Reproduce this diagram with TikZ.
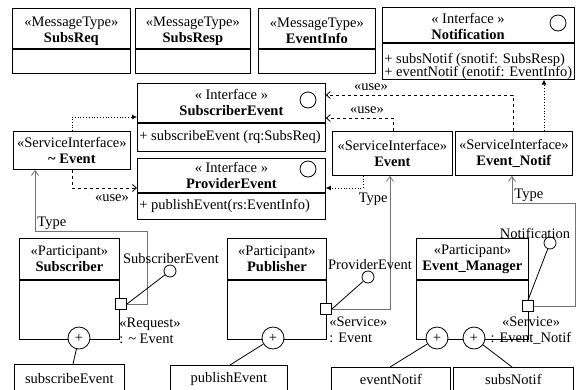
\documentclass[tikz,border=0pt]{standalone}
\usepackage{fontspec}
\setmainfont{Liberation Serif}
\usetikzlibrary{positioning,arrows.meta}

\begin{document}
\begin{tikzpicture}[
    x=1pt, y=-1pt,
    font=\fontsize{14.5}{16}\selectfont,
    line width=0.8pt,
    hdr/.style={draw, anchor=north west, align=center, inner sep=1pt},
    cbody/.style={draw, inner sep=1pt},
    lbl/.style={inner sep=0pt, align=center},
    iface/.style={draw, circle, minimum size=16pt, inner sep=0pt},
    port/.style={draw, fill=white, rectangle, minimum size=11pt, inner sep=0pt},
    lolli/.style={draw, fill=white, circle, minimum size=12pt, inner sep=0pt},
    own/.style={draw, fill=white, circle, minimum size=22pt, inner sep=0pt},
    usedep/.style={dashed, -{Straight Barb[length=4pt,width=7pt]}},
    realize/.style={dotted, -{Latex[length=5pt,width=5pt]}},
    typeof/.style={draw=black!55, -{Straight Barb[length=5pt,width=7pt]}}
]
    \useasboundingbox (0,0) rectangle (577,389);

    % message types
    \node[hdr, minimum width=118, minimum height=40] (reqH) at (12,8) {};
    \node[cbody, minimum width=118, minimum height=24, below=0pt of reqH] (reqB) {};
    \node[lbl] (reqT) at ([yshift=-23]reqH.north) {«MessageType»\\\textbf{SubsReq}};
    \node[hdr, minimum width=115, minimum height=40] (rspH) at (135,8) {};
    \node[cbody, minimum width=115, minimum height=24, below=0pt of rspH] (rspB) {};
    \node[lbl] (rspT) at ([yshift=-23]rspH.north) {«MessageType»\\\textbf{SubsResp}};
    \node[hdr, minimum width=117, minimum height=40] (infH) at (258,8) {};
    \node[cbody, minimum width=117, minimum height=24, below=0pt of infH] (infB) {};
    \node[lbl] (infT) at ([yshift=-23]infH.north) {«MessageType»\\\textbf{EventInfo}};

    % interfaces
    \node[hdr, minimum width=192, minimum height=35] (notH) at (382,7) {};
    \node[lbl] (notT) at (468,26) {« Interface »\\\textbf{Notification}};
    \node[iface] (notI) at (558,23) {};
    \node[cbody, minimum width=192, minimum height=36, below=0pt of notH] (notB) {};
    \node[lbl, anchor=west] (notOp1) at ([xshift=2]notB.west |- 0,60) {+ subsNotif (snotif: SubsResp)};
    \node[lbl, anchor=west] (notOp2) at ([xshift=2]notB.west |- 0,73) {+ eventNotif (enotif: EventInfo)};

    \node[hdr, minimum width=188, minimum height=39] (subH) at (137,83) {« Interface »\\\textbf{SubscriberEvent}};
    \node[iface] (subI) at (308,100) {};
    \node[cbody, minimum width=188, minimum height=28, below=0pt of subH] (subB) {};
    \node[lbl, anchor=west] (subOp) at ([xshift=2]subB.west) {+ subscribeEvent (rq:SubsReq)};

    \node[hdr, minimum width=188, minimum height=34] (prvH) at (137,158) {« Interface »\\\textbf{ProviderEvent}};
    \node[iface] (prvI) at (308,169) {};
    \node[cbody, minimum width=188, minimum height=26, below=0pt of prvH] (prvB) {};
    \node[lbl, anchor=west] (prvOp) at ([xshift=2]prvB.west) {+ publishEvent(rs:EventInfo)};

    % service interfaces
    \node[hdr, minimum width=117, minimum height=38] (tevS) at (13,131) {«ServiceInterface»\\\textbf{\textasciitilde{} Event}};
    \node[hdr, minimum width=120, minimum height=44] (evS) at (332,131) {«ServiceInterface»\\\textbf{Event}};
    \node[hdr, minimum width=117, minimum height=44] (enS) at (455,131) {«ServiceInterface»\\\textbf{Event\_Notif}};

    % participants
    \node[hdr, minimum width=100, minimum height=41] (sbrH) at (19,238) {«Participant»\\\textbf{Subscriber}};
    \node[cbody, minimum width=100, minimum height=59, below=0pt of sbrH] (sbrB) {};
    \node[hdr, minimum width=99, minimum height=41] (pubH) at (227,238) {«Participant»\\\textbf{Publisher}};
    \node[cbody, minimum width=99, minimum height=59, below=0pt of pubH] (pubB) {};
    \node[hdr, minimum width=112, minimum height=41] (emH) at (416,238) {«Participant»\\\textbf{Event\_Manager}};
    \node[cbody, minimum width=112, minimum height=59, below=0pt of emH] (emB) {};

    % operations
    \node[cbody, anchor=north west, minimum width=110, minimum height=28] (sbrOp) at (14,364) {subscribeEvent};
    \node[cbody, anchor=north west, minimum width=117, minimum height=27] (pubOp) at (170,365) {publishEvent};
    \node[cbody, anchor=north west, minimum width=119, minimum height=25] (emOp1) at (331,367) {eventNotif};
    \node[cbody, anchor=north west, minimum width=120, minimum height=25] (emOp2) at (453,367) {subsNotif};

    % dependencies
    \coordinate (dA) at (72,117);
    \coordinate (dB) at (72,188);
    \coordinate (dC) at (393,118);
    \coordinate (dD) at (363,188);
    \coordinate (dE) at (513,95);
    \coordinate (dF) at (544,0);
    \draw[realize] (tevS.north -| dA) |- (subH.west |- dA);
    \draw[usedep] (tevS.south -| dB) |- (prvH.west |- dB);
    \draw[usedep] (evS.north -| dC) |- (subH.east |- dC);
    \draw[realize] (evS.south -| dD) |- (prvH.east |- dD);
    \draw[usedep] (enS.north -| dE) |- (subH.east |- dE);
    \draw[realize] (enS.north -| dF) -- (notB.south -| dF);
    \node[lbl] (useB) at (112,198) {«use»};
    \node[lbl] (useC) at (367,110) {«use»};
    \node[lbl] (useE) at (371,87) {«use»};

    % ports and their types
    \coordinate (sbrK) at (147,231);
    \coordinate (emK) at (575,203);
    \draw[typeof] (121,304) -| (sbrK) -| ([xshift=22]tevS.south west);
    \draw[typeof] (326,309) -| ([xshift=58]evS.south west);
    \draw[typeof] (528,306) -| (emK) -| ([xshift=57]enS.south west);
    \node[lbl, anchor=south west] (sbrTy) at (37,230) {Type};
    \node[lbl, anchor=south east] (pubTy) at (388,206) {Type};
    \node[lbl, anchor=south west] (emTy) at (514,202) {Type};

    \node[port] (sbrP) at (121,304) {};
    \node[port] (pubP) at (326,309) {};
    \node[port] (emP) at (528,306) {};
    \node[lolli] (sbrL) at (170,271) {};
    \node[lolli] (pubL) at (368,277) {};
    \node[lolli] (emL) at (550,243) {};
    \draw (sbrP.east) -- (sbrL);
    \draw (pubP.east) -- (pubL);
    \draw (emP.north) -- (emL);
    \node[lbl] (sbrLb) at (171,259) {SubscriberEvent};
    \node[lbl] (pubLb) at (370,265) {ProviderEvent};
    \node[lbl] (emLb) at (535,233) {Notification};
    \node[lbl, anchor=west, align=left] (sbrSt) at (119,331) {«Request»\\: \textasciitilde{} Event};
    \node[lbl, anchor=west, align=left] (pubSt) at (329,330) {«Service»\\: Event};
    \node[lbl] (emSt) at (531,331) {«Service»\\: Event\_Notif};

    % owned behaviours
    \node[own] (sbrO) at (79,338) {+};
    \node[own] (pubO) at (273,338) {+};
    \node[own] (emO1) at (437,338) {+};
    \node[own] (emO2) at (474,338) {+};
    \draw (sbrO) -- ([xshift=59]sbrOp.north west);
    \draw (pubO) -- ([xshift=60]pubOp.north west);
    \draw (emO1) -- ([xshift=59]emOp1.north west);
    \draw (emO2) -- ([xshift=59]emOp2.north west);
\end{tikzpicture}
\end{document}
